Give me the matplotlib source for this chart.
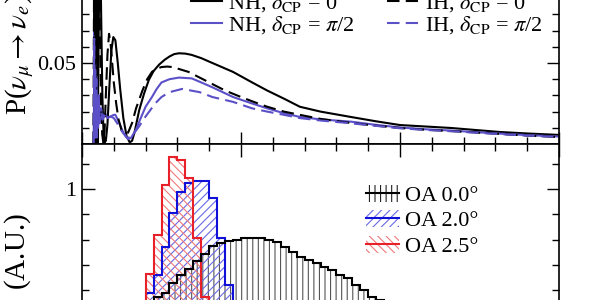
import matplotlib
matplotlib.use('Agg')
import matplotlib.pyplot as plt
from matplotlib.patches import Patch
from matplotlib.lines import Line2D
from matplotlib.legend_handler import HandlerTuple
from matplotlib.ticker import MultipleLocator, FixedLocator, FormatStrFormatter
import numpy as np

plt.rcParams['font.family'] = ['Liberation Serif', 'DejaVu Serif']
plt.rcParams['mathtext.fontset'] = 'stix'
plt.rcParams['hatch.linewidth'] = 0.8

# -- Probabilidad de oscilacion --------------------------------------------
e_nh0 = [0.075, 0.079, 0.083, 0.087, 0.091, 0.095, 0.099, 0.104, 0.110, 0.116, 0.122,
         0.128, 0.135, 0.142, 0.150, 0.160, 0.172, 0.185, 0.197, 0.21, 0.225, 0.24,
         0.26, 0.28, 0.30, 0.315, 0.33, 0.36, 0.39, 0.42, 0.45, 0.485, 0.52, 0.55,
         0.58, 0.61, 0.65, 0.69, 0.75, 0.82, 0.95, 1.07, 1.165, 1.27, 1.37, 1.5,
         1.69, 1.85, 2.0, 2.16, 2.32, 2.48, 2.63, 2.8, 3.0]
p_nh0 = [0.000, 0.110, 0.004, 0.120, 0.002, 0.090, 0.001, 0.060, 0.115, 0.110, 0.070,
         0.030, 0.008, 0.001, 0.002, 0.012, 0.035, 0.058, 0.066, 0.064, 0.050, 0.034,
         0.016, 0.005, 0.001, 0.002, 0.007, 0.021, 0.031, 0.0395, 0.045, 0.049, 0.052, 0.054,
         0.0555, 0.056, 0.0558, 0.055, 0.053, 0.050, 0.0445, 0.038, 0.033, 0.028, 0.023, 0.020,
         0.0167, 0.014, 0.0117, 0.0108, 0.0099, 0.0086, 0.0074, 0.0065, 0.0056]

e_ih0 = [0.072, 0.076, 0.080, 0.084, 0.088, 0.092, 0.097, 0.102, 0.108, 0.114, 0.120,
         0.127, 0.134, 0.142, 0.150, 0.160, 0.170, 0.180, 0.19, 0.20, 0.215, 0.23,
         0.25, 0.27, 0.29, 0.315, 0.34, 0.38, 0.41, 0.44, 0.47, 0.50, 0.535, 0.57,
         0.62, 0.67, 0.74, 0.82, 0.90, 1.0, 1.08, 1.165, 1.27, 1.37, 1.5, 1.69,
         1.85, 2.0, 2.16, 2.32, 2.48, 2.63, 2.8, 3.0]
p_ih0 = [0.000, 0.105, 0.003, 0.115, 0.001, 0.095, 0.080, 0.115, 0.100, 0.060, 0.025,
         0.006, 0.001, 0.008, 0.030, 0.055, 0.068, 0.062, 0.050, 0.038, 0.025, 0.015,
         0.008, 0.007, 0.007, 0.013, 0.022, 0.033, 0.040, 0.0445, 0.0465, 0.0475, 0.0478, 0.0475,
         0.046, 0.0445, 0.041, 0.037, 0.033, 0.029, 0.026, 0.023, 0.020, 0.018, 0.0155, 0.013,
         0.0113, 0.0099, 0.0088, 0.008, 0.0071, 0.0062, 0.0052, 0.0043]

e_nh90 = [0.074, 0.078, 0.081, 0.084, 0.087, 0.090, 0.094, 0.098, 0.102, 0.106, 0.112,
          0.12, 0.13, 0.145, 0.16, 0.18, 0.20, 0.21, 0.23, 0.26, 0.29, 0.31, 0.34,
          0.365, 0.40, 0.44, 0.47, 0.50, 0.55, 0.61, 0.69, 0.75, 0.82, 0.95, 1.07,
          1.165, 1.27, 1.37, 1.5, 1.69, 1.85, 2.0, 2.16, 2.32, 2.48, 2.63, 2.8, 3.0]
p_nh90 = [0.000, 0.070, 0.004, 0.050, 0.008, 0.042, 0.006, 0.030, 0.012, 0.030, 0.014,
          0.022, 0.016, 0.019, 0.016, 0.017, 0.018, 0.018, 0.014, 0.007, 0.003, 0.004, 0.009,
          0.015, 0.023, 0.029, 0.034, 0.038, 0.040, 0.041, 0.0405, 0.038, 0.035, 0.029, 0.025,
          0.022, 0.019, 0.0167, 0.0152, 0.0138, 0.0118, 0.0102, 0.0091, 0.0083, 0.0073, 0.0064, 0.0055, 0.0046]

e_ih90 = [0.073, 0.077, 0.080, 0.083, 0.086, 0.089, 0.093, 0.097, 0.101, 0.106, 0.112,
          0.12, 0.13, 0.145, 0.16, 0.18, 0.20, 0.22, 0.25, 0.28, 0.30, 0.33, 0.36,
          0.40, 0.46, 0.50, 0.55, 0.63, 0.74, 0.82, 0.95, 1.07, 1.165, 1.27, 1.37,
          1.5, 1.69, 1.85, 2.0, 2.16, 2.32, 2.48, 2.63, 2.8, 3.0]
p_ih90 = [0.000, 0.065, 0.003, 0.048, 0.006, 0.040, 0.004, 0.028, 0.010, 0.024, 0.013,
          0.020, 0.015, 0.018, 0.016, 0.017, 0.016, 0.013, 0.008, 0.004, 0.004, 0.007, 0.011,
          0.017, 0.025, 0.029, 0.032, 0.034, 0.032, 0.029, 0.026, 0.022, 0.020, 0.018, 0.016,
          0.0145, 0.0128, 0.0112, 0.0097, 0.0087, 0.0079, 0.0070, 0.0061, 0.0052, 0.0043]

# -- Flujos fuera de eje, bins de 0.05 GeV (A.U.) --------------------------
bordes = np.round(np.arange(0.0, 2.55, 0.05), 2)
flujo_oa25 = [0.00, 0.01, 0.02, 0.03, 0.04, 0.05, 0.06, 0.08, 0.33, 0.64, 1.03, 1.25,
              1.23, 1.09, 0.61, 0.15, 0.08, 0.05, 0.04, 0.03, 0.02, 0.02, 0.02, 0.02,
              0.01, 0.01, 0.01, 0.01, 0.01, 0.01, 0.01, 0.01, 0.01, 0.01, 0.01, 0.01,
              0.01, 0.01, 0.01, 0.01, 0.01, 0.01, 0.01, 0.01, 0.01, 0.01, 0.01, 0.01,
              0.01, 0.01]
flujo_oa20 = [0.00, 0.01, 0.02, 0.03, 0.04, 0.05, 0.06, 0.09, 0.18, 0.32, 0.54, 0.81,
              0.98, 1.05, 1.06, 1.06, 0.93, 0.61, 0.24, 0.08, 0.05, 0.04, 0.03, 0.03,
              0.02, 0.02, 0.02, 0.02, 0.02, 0.02, 0.01, 0.01, 0.01, 0.01, 0.01, 0.01,
              0.01, 0.01, 0.01, 0.01, 0.01, 0.01, 0.01, 0.01, 0.01, 0.01, 0.01, 0.01,
              0.01, 0.01]
flujo_oa00 = [0.00, 0.01, 0.02, 0.03, 0.04, 0.05, 0.06, 0.08, 0.10, 0.15, 0.18, 0.26,
              0.32, 0.37, 0.43, 0.49, 0.55, 0.57, 0.59, 0.60, 0.61, 0.61, 0.61, 0.60,
              0.58, 0.54, 0.50, 0.46, 0.44, 0.415, 0.38, 0.36, 0.32, 0.30, 0.24, 0.20,
              0.15, 0.12, 0.10, 0.08, 0.07, 0.06, 0.05, 0.04, 0.04, 0.03, 0.03, 0.02,
              0.02, 0.02]

etiquetas_osc = [r'NH, $\delta_{\rm CP}$ = 0', r'NH, $\delta_{\rm CP}$ = $\pi$/2',
                 r'IH, $\delta_{\rm CP}$ = 0', r'IH, $\delta_{\rm CP}$ = $\pi$/2']
etiquetas_oa = ['OA 0.0°', 'OA 2.0°', 'OA 2.5°']

negro = 'black'
morado = '#5b50c8'
azul = '#1010d8'
rojo = '#e8202a'

fig = plt.figure(figsize=(6, 3), dpi=100)
ax1 = fig.add_axes([82/600, 0.52, 477/600, 0.54])
ax2 = fig.add_axes([82/600, 0.52 - 171.5/300, 477/600, 171.5/300])

# ---- panel superior -------------------------------------------------------
ax1.plot(e_nh0, p_nh0, color=negro, lw=1.5, label=etiquetas_osc[0])
ax1.plot(e_nh90, p_nh90, color=morado, lw=1.5, label=etiquetas_osc[1])
ax1.plot(e_ih0, p_ih0, color=negro, lw=1.5, ls=(0, (6, 3)), label=etiquetas_osc[2])
ax1.plot(e_ih90, p_ih90, color=morado, lw=1.5, ls=(0, (6, 3)), label=etiquetas_osc[3])
ax1.set_xlim(0, 3)
ax1.set_ylim(0, 0.1)
ax1.yaxis.set_major_locator(FixedLocator([0.05]))
ax1.yaxis.set_minor_locator(MultipleLocator(0.01))
ax1.yaxis.set_major_formatter(FormatStrFormatter('%.2f'))
ax1.xaxis.set_major_locator(MultipleLocator(1))
ax1.xaxis.set_minor_locator(MultipleLocator(0.2))
ax1.tick_params(which='both', direction='in', top=True, right=True, labelbottom=False,
                labelsize=16, pad=4, width=1)
ax1.tick_params(which='major', length=9)
ax1.tick_params(which='minor', length=5)
ax1.legend(ncol=2, loc='upper left', bbox_to_anchor=(0.186, 1.06), frameon=False,
           fontsize=16, handlelength=1.4, columnspacing=1.45, labelspacing=0.0,
           handletextpad=0.3)

# ---- panel inferior -------------------------------------------------------
ax2.stairs(flujo_oa00, bordes, fill=True, facecolor='none', edgecolor='#555555',
           hatch='|||', linewidth=0)
ax2.stairs(flujo_oa20, bordes, fill=True, facecolor='none', edgecolor='#6a6ae6',
           hatch='////', linewidth=0)
ax2.stairs(flujo_oa25, bordes, fill=True, facecolor='none', edgecolor='#f07a7a',
           hatch='\\\\\\\\', linewidth=0)
ax2.stairs(flujo_oa20, bordes, color=azul, lw=1.5)
ax2.stairs(flujo_oa25, bordes, color=rojo, lw=1.5)
ax2.stairs(flujo_oa00, bordes, color=negro, lw=1.5)
ax2.set_xlim(0, 3)
ax2.set_ylim(0, 1.356)
ax2.yaxis.set_major_locator(MultipleLocator(1))
ax2.yaxis.set_minor_locator(MultipleLocator(0.2))
ax2.xaxis.set_major_locator(MultipleLocator(1))
ax2.xaxis.set_minor_locator(MultipleLocator(0.2))
ax2.tick_params(which='both', direction='in', top=True, right=True, labelbottom=False,
                labelsize=16, pad=4, width=1)
ax2.tick_params(which='major', length=9)
ax2.tick_params(which='minor', length=5)

h_oa = [
    (Patch(facecolor='none', edgecolor='#222222', hatch='|||', linewidth=0),
     Line2D([], [], color=negro, lw=1.5)),
    (Patch(facecolor='none', edgecolor='#6a6ae6', hatch='////', linewidth=0),
     Line2D([], [], color=azul, lw=1.5)),
    (Patch(facecolor='none', edgecolor='#f07a7a', hatch='\\\\\\\\', linewidth=0),
     Line2D([], [], color=rojo, lw=1.5)),
]
ax2.legend(h_oa, etiquetas_oa, handler_map={tuple: HandlerTuple(ndivide=1)},
           loc='upper left', bbox_to_anchor=(0.553, 0.88), frameon=False, fontsize=16,
           handlelength=1.5, handleheight=0.8, labelspacing=0.2, handletextpad=0.25)

for ax in (ax1, ax2):
    for s in ax.spines.values():
        s.set_linewidth(1.2)

fig.text(20/600, 1 - 115/300, r'P($\nu_\mu \rightarrow \nu_e$)', rotation=90,
         ha='center', va='bottom', fontsize=21)
fig.text(20/600, 1 - 213/300, r'$\Phi_{\nu_\mu}$ (A.U.)', rotation=90,
         ha='center', va='top', fontsize=21)

fig.savefig('out.png', dpi=100)
